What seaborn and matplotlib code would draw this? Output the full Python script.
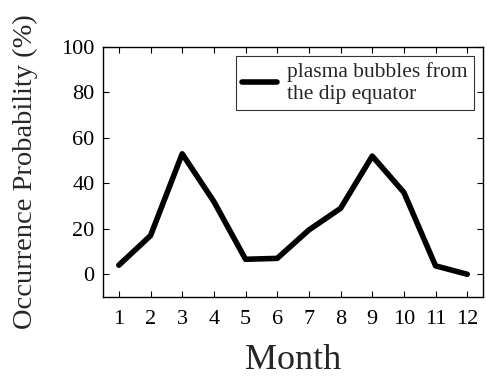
import matplotlib
matplotlib.use("Agg")
import matplotlib.pyplot as plt
import seaborn as sns
import pandas as pd

months = [1, 2, 3, 4, 5, 6, 7, 8, 9, 10, 11, 12]
probability = [4, 17, 53, 32, 6.6, 7, 19.5, 29, 52, 36, 3.7, 0]
series_label = "plasma bubbles from\nthe dip equator"
x_ticks = months
y_ticks = [0, 20, 40, 60, 80, 100]

sns.set_theme(style="ticks")
plt.rcParams['font.family'] = ['Liberation Serif', 'DejaVu Serif']

df = pd.DataFrame({"Month": months, "Probability": probability})

fig = plt.figure(figsize=(4.87, 3.82), dpi=100)
ax = fig.add_axes([0.2115, 0.2225, 0.7805, 0.6545])
sns.lineplot(data=df, x="Month", y="Probability", ax=ax, color="black",
             linewidth=4.0, label=series_label)

ax.set_xlim(0.5, 12.5)
ax.set_ylim(-10, 100)
ax.set_xticks(x_ticks)
ax.set_yticks(y_ticks)
ax.tick_params(axis="both", direction="in", top=True, right=True, labelsize=16,
               length=4, width=0.8, colors="black")
ax.tick_params(axis="x", pad=9)
ax.tick_params(axis="y", pad=6)
for s in ax.spines.values():
    s.set_linewidth(1.0)
    s.set_color("black")
ax.set_xlabel("Month", fontsize=26, labelpad=11)
ax.set_ylabel("Occurrence Probability (%)", fontsize=20.5, labelpad=17)

leg = ax.legend(loc="upper right", fontsize=15.5, frameon=True, fancybox=False,
                edgecolor="black", handlelength=1.6, borderpad=0.3,
                labelspacing=0.1, handletextpad=0.5, borderaxespad=0.4)
leg.get_frame().set_linewidth(0.8)

fig.savefig("out.png", dpi=100)
